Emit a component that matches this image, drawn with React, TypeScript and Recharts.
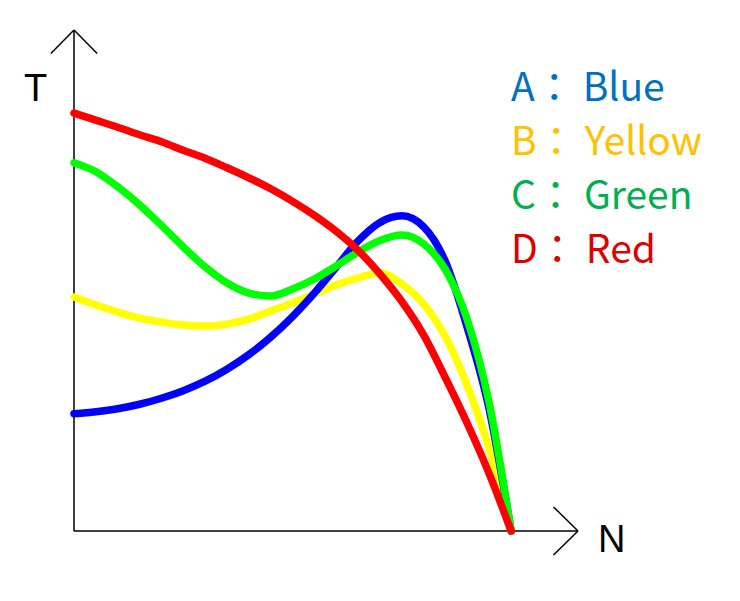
import React from "react";
import { LineChart, Line, XAxis, YAxis, ReferenceLine } from "recharts";

// N positions along the horizontal axis (0 = origin, 100 = common end point)
const N_VALUES = [0, 5, 10, 15, 20, 25, 30, 35, 40, 45, 50, 55, 60, 65, 70, 75, 80, 85, 90, 95, 100];
// T values for each curve
const A_BLUE = [23.4, 23.8, 24.4, 25.3, 26.5, 28.0, 29.9, 32.3, 35.2, 38.7, 42.8, 47.5, 52.7, 57.9, 61.6, 62.9, 60.7, 53.7, 40.5, 24.2, 0];
const B_YELLOW = [46.7, 45.1, 43.7, 42.5, 41.7, 41.1, 40.9, 41.3, 42.3, 43.9, 45.5, 47.3, 49.1, 50.5, 51.5, 49.3, 45.3, 38.7, 28.9, 16.4, 0];
const C_GREEN = [73.5, 71.7, 68.7, 65.1, 61.0, 56.7, 52.7, 49.5, 47.5, 46.9, 48.3, 50.3, 52.9, 55.7, 58.0, 59.1, 57.3, 52.1, 42.1, 25.5, 0];
const D_RED = [83.4, 82.0, 80.6, 79.1, 77.7, 76.0, 74.4, 72.5, 70.5, 68.3, 65.8, 63.0, 59.8, 56.0, 51.3, 45.8, 39.1, 30.5, 21.4, 11.4, 0];

const LEGEND_KEYS = ["A", "B", "C", "D"];
const LEGEND_NAMES = ["Blue", "Yellow", "Green", "Red"];
const LEGEND_COLORS = ["#0070C0", "#FFC000", "#00B050", "#E00000"];

const X_MAX = 115.3;
const Y_MAX = 100;

const data = N_VALUES.map((n, i) => ({
  n,
  a: A_BLUE[i],
  b: B_YELLOW[i],
  c: C_GREEN[i],
  d: D_RED[i],
}));

const W = 740;
const H = 601;
const MARGIN = { top: 30, left: 74, right: 162, bottom: 70 };

// arrow arm lengths in data units
const ARM_X_Y = 5.3; // horizontal extent of y-arrow arms (N units)
const ARM_Y_Y = 4.7; // vertical extent of y-arrow arms (T units)
const ARM_X_X = 5.6; // horizontal extent of x-arrow arms
const ARM_Y_X = 4.8; // vertical extent of x-arrow arms

export default function App() {
  const lineProps = {
    type: "monotone" as const,
    dot: false,
    activeDot: false,
    strokeWidth: 7.5,
    strokeLinecap: "round" as const,
    strokeLinejoin: "round" as const,
    isAnimationActive: false,
  };
  const arrow = { stroke: "#000", strokeWidth: 1.5, ifOverflow: "visible" as const };
  return (
    <div style={{ position: "absolute", left: 0, top: 0, width: W, height: H, background: "#fff" }}>
      <LineChart width={W} height={H} data={data} margin={MARGIN}>
        <XAxis dataKey="n" type="number" domain={[0, X_MAX]} hide />
        <YAxis type="number" domain={[0, Y_MAX]} hide />
        {/* axes */}
        <ReferenceLine {...arrow} segment={[{ x: 0, y: 0 }, { x: 0, y: Y_MAX }]} />
        <ReferenceLine {...arrow} segment={[{ x: 0, y: 0 }, { x: X_MAX, y: 0 }]} />
        {/* arrow heads */}
        <ReferenceLine {...arrow} segment={[{ x: 0, y: Y_MAX }, { x: -ARM_X_Y, y: Y_MAX - ARM_Y_Y }]} />
        <ReferenceLine {...arrow} segment={[{ x: 0, y: Y_MAX }, { x: ARM_X_Y, y: Y_MAX - ARM_Y_Y }]} />
        <ReferenceLine {...arrow} segment={[{ x: X_MAX, y: 0 }, { x: X_MAX - ARM_X_X, y: ARM_Y_X }]} />
        <ReferenceLine {...arrow} segment={[{ x: X_MAX, y: 0 }, { x: X_MAX - ARM_X_X, y: -ARM_Y_X }]} />
        <Line dataKey="b" stroke="#FFFF00" {...lineProps} />
        <Line dataKey="a" stroke="#0000FF" {...lineProps} />
        <Line dataKey="c" stroke="#00FF00" {...lineProps} />
        <Line dataKey="d" stroke="#FF0000" {...lineProps} />
      </LineChart>
      <svg
        width={W}
        height={H}
        style={{ position: "absolute", left: 0, top: 0, pointerEvents: "none" }}
      >
        <text x={24} y={101} fontFamily="Liberation Sans, Arial, sans-serif" fontSize={38} fill="#000">
          T
        </text>
        <text x={598} y={552} fontFamily="Liberation Sans, Arial, sans-serif" fontSize={38} fill="#000">
          N
        </text>
        {LEGEND_KEYS.map((k, i) => (
          <text
            key={k}
            x={511}
            y={101 + i * 54}
            fontFamily="'Noto Sans CJK TC', 'Noto Sans', sans-serif"
            fontSize={39}
            fill={LEGEND_COLORS[i]}
          >
            <tspan>{k}：</tspan>
            <tspan dx={9}>{LEGEND_NAMES[i]}</tspan>
          </text>
        ))}
      </svg>
    </div>
  );
}
